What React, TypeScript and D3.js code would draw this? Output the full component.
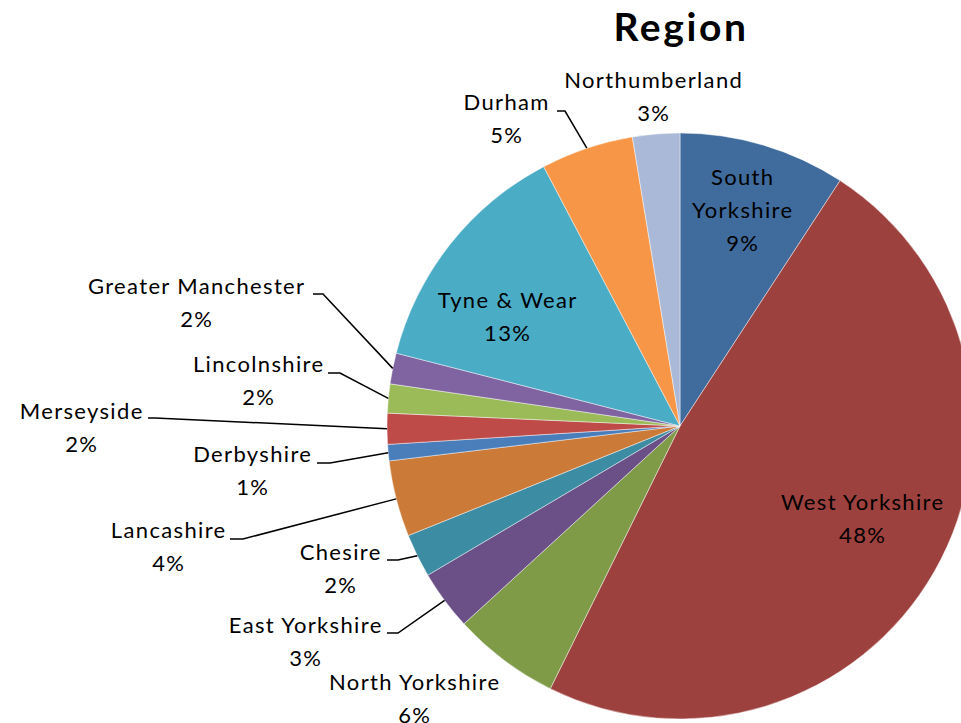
import React from "react";
import * as d3 from "d3";

const categories = [
  "South Yorkshire",
  "West Yorkshire",
  "North Yorkshire",
  "East Yorkshire",
  "Chesire",
  "Lancashire",
  "Derbyshire",
  "Merseyside",
  "Lincolnshire",
  "Greater Manchester",
  "Tyne & Wear",
  "Durham",
  "Northumberland",
];
const values = [9.2, 48.1, 5.9, 3.3, 2.4, 4.2, 0.9, 1.7, 1.6, 1.7, 13.3, 5.1, 2.6];
const colors = [
  "#406B9D",
  "#9D413E",
  "#7F9B48",
  "#6A5086",
  "#3C8CA3",
  "#CC7A37",
  "#4A7EBB",
  "#BE4B48",
  "#9BBB59",
  "#8064A2",
  "#4BACC6",
  "#F79646",
  "#AAB9D7",
];
const nameLines: string[][] = [
  ["South", "Yorkshire"],
  ["West Yorkshire"],
  ["North Yorkshire"],
  ["East Yorkshire"],
  ["Chesire"],
  ["Lancashire"],
  ["Derbyshire"],
  ["Merseyside"],
  ["Lincolnshire"],
  ["Greater Manchester"],
  ["Tyne & Wear"],
  ["Durham"],
  ["Northumberland"],
];

// layout: label centre x, first baseline y, and optional leader start [x0, x1, y]
const labelLayout: { x: number; y: number; leader?: [number, number, number] }[] = [
  { x: 742, y: 185 },
  { x: 862, y: 510 },
  { x: 414, y: 690 },
  { x: 305, y: 633, leader: [387, 398, 633] },
  { x: 340, y: 560, leader: [387, 398, 560] },
  { x: 168, y: 538, leader: [230, 243, 539] },
  { x: 252, y: 462, leader: [317, 330, 463] },
  { x: 81, y: 419, leader: [148, 155, 418] },
  { x: 258, y: 372, leader: [328, 340, 373] },
  { x: 196, y: 294, leader: [313, 323, 294] },
  { x: 507, y: 308 },
  { x: 506, y: 110, leader: [557, 565, 111] },
  { x: 653, y: 88 },
];

const W = 961;
const H = 723;
const cx = 680;
const cy = 426;
const R = 293;
const LH = 33;
const FONT = "Lato, 'Open Sans', sans-serif";

export default function App() {
  const total = d3.sum(values);
  const pie = d3.pie<number>().sort(null).value((d) => d);
  const arcs = pie(values);
  const arc = d3.arc<d3.PieArcDatum<number>>().innerRadius(0).outerRadius(R);
  const fmt = d3.format(".0%");

  return (
    <svg
      width={W}
      height={H}
      style={{ position: "absolute", left: 0, top: 0, background: "#fff" }}
    >
      <text
        x={cx + 1}
        y={41}
        textAnchor="middle"
        fontFamily={FONT}
        fontWeight="bold"
        fontSize={39}
        letterSpacing={2.6}
        fill="#000"
      >
        Region
      </text>
      <g transform={`translate(${cx},${cy})`}>
        {arcs.map((a, i) => (
          <path
            key={categories[i]}
            d={arc(a) || ""}
            fill={colors[i]}
            stroke="#ffffff"
            strokeOpacity={0.6}
            strokeWidth={0.75}
          />
        ))}
      </g>
      {arcs.map((a, i) => {
        const L = labelLayout[i];
        if (!L.leader) return null;
        const mid = (a.startAngle + a.endAngle) / 2;
        const ex = cx + R * Math.sin(mid);
        const ey = cy - R * Math.cos(mid);
        const [x0, x1, y] = L.leader;
        return (
          <path
            key={"l" + i}
            d={`M${x0},${y}L${x1},${y}L${ex},${ey}`}
            fill="none"
            stroke="#000"
            strokeWidth={1.5}
          />
        );
      })}
      {arcs.map((a, i) => {
        const L = labelLayout[i];
        const lines = [...nameLines[i], fmt(values[i] / total)];
        return (
          <text
            key={"t" + i}
            textAnchor="middle"
            fontFamily={FONT}
            fontSize={22}
            letterSpacing={1.35}
            fill="#000"
          >
            {lines.map((s, j) => (
              <tspan key={j} x={L.x + 0.7} y={L.y + j * LH}>
                {s}
              </tspan>
            ))}
          </text>
        );
      })}
    </svg>
  );
}
